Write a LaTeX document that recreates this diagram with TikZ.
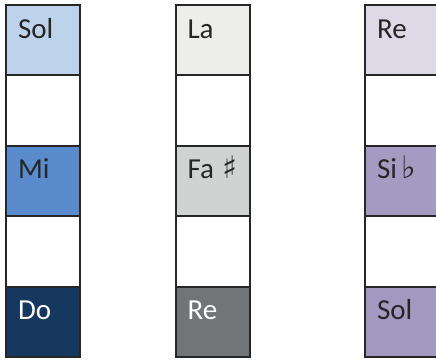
\documentclass[tikz,border=0pt]{standalone}
\usepackage{fontspec}
\setmainfont{Carlito}
\newfontfamily\musicsym{DejaVu Sans}
\usetikzlibrary{positioning}
\definecolor{edge}{HTML}{262626}
\definecolor{ink}{HTML}{262626}
\definecolor{solbg}{HTML}{BDD2EB}
\definecolor{mibg}{HTML}{5A8BCC}
\definecolor{dobg}{HTML}{17385E}
\definecolor{labg}{HTML}{EDEEEB}
\definecolor{fabg}{HTML}{D1D3D2}
\definecolor{regraybg}{HTML}{727578}
\definecolor{relightbg}{HTML}{DDD9E6}
\definecolor{sibg}{HTML}{A59BC2}
\definecolor{solvbg}{HTML}{A299C0}
\newcommand{\sharpsign}{{\musicsym\fontsize{31}{33}\selectfont ♯}}
\newcommand{\flatsign}{{\musicsym\fontsize{31}{33}\selectfont ♭}}

\begin{document}
\begin{tikzpicture}[
  x=1pt, y=-1pt,
  node distance=0pt,
  cell/.style={draw=edge, line width=2pt, outer sep=0pt, inner xsep=12pt, inner ysep=0pt,
               text width=50pt, align=left, text height=33pt, text depth=37.4pt,
               font=\fontsize{29}{32}\selectfont, text=ink},
  dark/.style={text=white}]

\useasboundingbox (0,0) rectangle (436,361);

% first column
\node[cell, fill=solbg] (sol) at (43,40.2) {Sol};
\node[cell, fill=white, below=of sol] (gapA) {};
\node[cell, fill=mibg, below=of gapA] (mi) {Mi};
\node[cell, fill=white, below=of mi] (gapB) {};
\node[cell, dark, fill=dobg, below=of gapB] (do) {Do};

% second column
\node[cell, fill=labg] (la) at (212.5,40.2) {La};
\node[cell, fill=white, below=of la] (gapC) {};
\node[cell, fill=fabg, below=of gapC] (fa) {\mbox{Fa\hspace{9pt}\sharpsign}};
\node[cell, fill=white, below=of fa] (gapD) {};
\node[cell, dark, fill=regraybg, below=of gapD] (relow) {Re};

% third column
\node[cell, fill=relightbg] (retop) at (402,40.2) {Re};
\node[cell, fill=white, below=of retop] (gapE) {};
\node[cell, fill=sibg, below=of gapE] (si) {\mbox{Si\,\flatsign}};
\node[cell, fill=white, below=of si] (gapF) {};
\node[cell, fill=solvbg, below=of gapF] (solv) {Sol};
\end{tikzpicture}
\end{document}
